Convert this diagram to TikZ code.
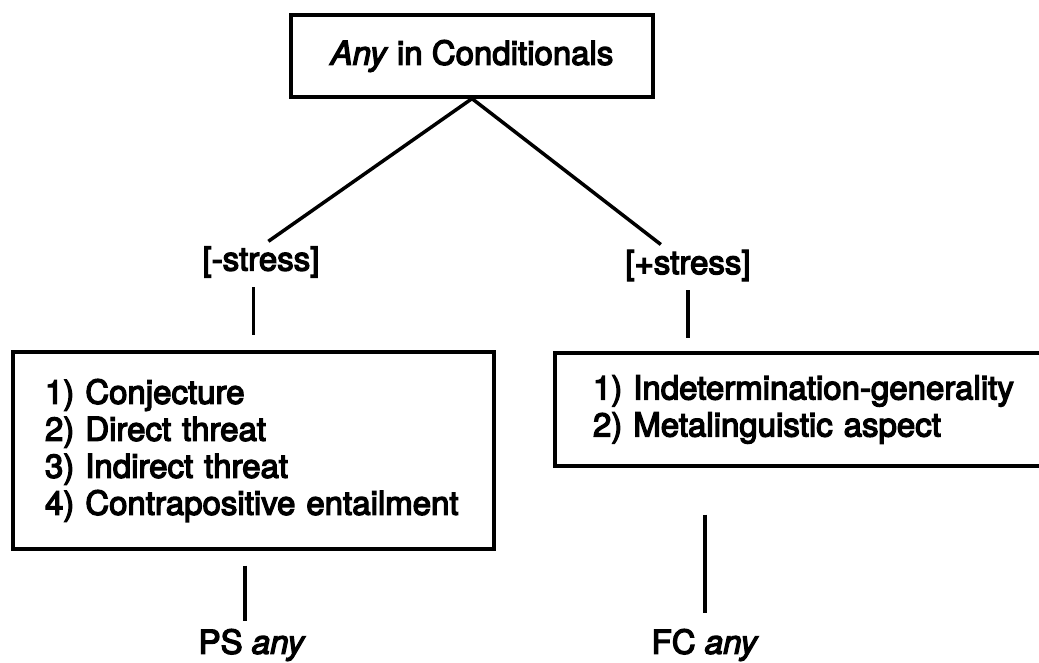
\documentclass[tikz,border=0pt]{standalone}
\usepackage{fontspec}
\setmainfont{TeX Gyre Heros}[FakeBold=4]
\newcommand\diagfont{\fontsize{33}{37}\selectfont}
\begin{document}
\begin{tikzpicture}[x=1pt, y=-1pt,
  box/.style={draw, line width=3.2pt, inner sep=0pt, font=\diagfont},
  lbl/.style={inner sep=0pt, outer sep=0pt, font=\diagfont},
  edge/.style={line width=3.5pt}]
  \useasboundingbox (0,0) rectangle (1039,662);
  \clip (0,0) rectangle (1039,662);

  % root
  \node[box, minimum width=362pt, minimum height=82pt] (top) at (472,56)
    {\textit{Any} in Conditionals};

  % stress labels
  \node[lbl] (ls) at (261,262) {[-stress]};
  \node[lbl] (rs) at (688,265.5) {[+stress]};

  % readings
  \node[box, minimum width=481pt, minimum height=197pt, text width=417pt, align=left]
    (lbox) at (253.5,450.5)
    {1) Conjecture\\2) Direct threat\\3) Indirect threat\\4) Contrapositive entailment};
  \node[box, minimum width=516pt, minimum height=113pt, text width=440pt, align=left]
    (rbox) at (813,409.5)
    {1) Indetermination-generality\\2) Metalinguistic aspect};

  % outcomes
  \node[lbl] (ps) at (252,645) {PS \textit{any}};
  \node[lbl] (fc) at (705,645) {FC \textit{any}};
  \coordinate (psline) at (245,645);

  % connectors
  \draw[edge, shorten >=9pt] (top.south) -- (ls.north);
  \draw[edge, shorten >=9pt] (top.south) -- (rs);
  \draw[edge, shorten <=9.5pt, shorten >=15pt] (ls.south -| lbox.north) -- (lbox.north);
  \draw[edge, shorten <=9pt, shorten >=13pt] (rs.south) -- (rs.south |- rbox.north);
  \draw[edge, shorten <=15pt, shorten >=8.5pt] (psline |- lbox.south) -- (psline |- ps.north);
  \draw[edge, shorten <=47pt, shorten >=16pt] (fc.north |- rbox.south) -- (fc.north);
\end{tikzpicture}
\end{document}
